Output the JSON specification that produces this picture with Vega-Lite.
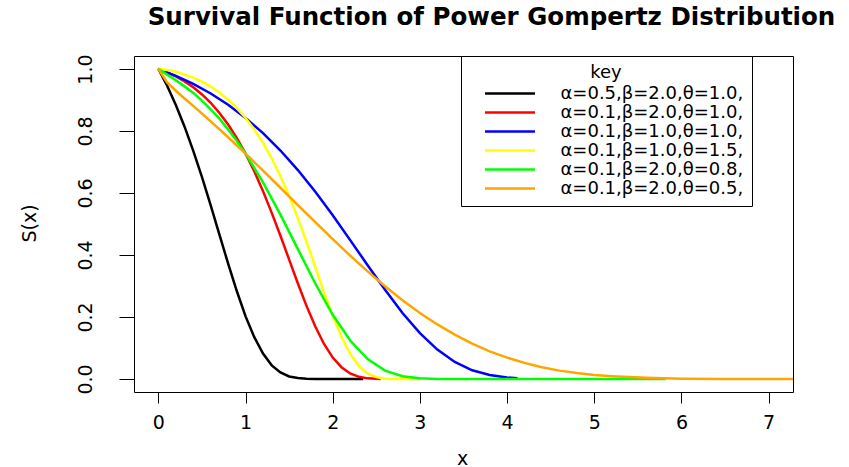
{
  "$schema": "https://vega.github.io/schema/vega-lite/v6.json",
  "width": 659,
  "height": 336,
  "autosize": {"type": "none"},
  "padding": {"left": 134, "top": 56, "right": 56, "bottom": 75},
  "background": "white",
  "config": {
    "font": "DejaVu Sans",
    "view": {"stroke": "black", "strokeWidth": 1},
    "axis": {"grid": false, "domain": false, "labelColor": "black", "tickColor": "black", "titleColor": "black", "titleFontWeight": "normal"}
  },
  "title": {
    "text": "Survival Function of Power Gompertz Distribution",
    "font": "DejaVu Sans",
    "fontSize": 24.5,
    "fontWeight": "bold",
    "color": "black",
    "anchor": "middle",
    "dx": 28,
    "baseline": "alphabetic",
    "offset": 4
  },
  "datasets": {
    "black": [
      {"x": 0, "s": 1}, {"x": 0.1, "s": 0.946}, {"x": 0.2, "s": 0.884}, {"x": 0.3, "s": 0.814}, {"x": 0.4, "s": 0.736},
      {"x": 0.5, "s": 0.651}, {"x": 0.6, "s": 0.56}, {"x": 0.7, "s": 0.466}, {"x": 0.8, "s": 0.372}, {"x": 0.9, "s": 0.283},
      {"x": 1.0, "s": 0.202}, {"x": 1.1, "s": 0.135}, {"x": 1.2, "s": 0.082}, {"x": 1.3, "s": 0.044}, {"x": 1.4, "s": 0.021},
      {"x": 1.5, "s": 0.008}, {"x": 1.6, "s": 0.003}, {"x": 1.7, "s": 0.001}, {"x": 1.8, "s": 0}, {"x": 2.35, "s": 0}
    ],
    "red": [
      {"x": 0, "s": 1}, {"x": 0.1, "s": 0.989}, {"x": 0.2, "s": 0.976}, {"x": 0.3, "s": 0.96}, {"x": 0.4, "s": 0.941},
      {"x": 0.5, "s": 0.918}, {"x": 0.6, "s": 0.891}, {"x": 0.7, "s": 0.858}, {"x": 0.8, "s": 0.821}, {"x": 0.9, "s": 0.777},
      {"x": 1.0, "s": 0.727}, {"x": 1.1, "s": 0.67}, {"x": 1.2, "s": 0.606}, {"x": 1.3, "s": 0.536}, {"x": 1.4, "s": 0.462},
      {"x": 1.5, "s": 0.385}, {"x": 1.6, "s": 0.308}, {"x": 1.7, "s": 0.235}, {"x": 1.8, "s": 0.169}, {"x": 1.9, "s": 0.113},
      {"x": 2.0, "s": 0.069}, {"x": 2.1, "s": 0.038}, {"x": 2.2, "s": 0.018}, {"x": 2.3, "s": 0.007}, {"x": 2.4, "s": 0.002},
      {"x": 2.55, "s": 0}
    ],
    "blue": [
      {"x": 0, "s": 1}, {"x": 0.2, "s": 0.978}, {"x": 0.4, "s": 0.952}, {"x": 0.6, "s": 0.921}, {"x": 0.8, "s": 0.885},
      {"x": 1.0, "s": 0.842}, {"x": 1.2, "s": 0.793}, {"x": 1.4, "s": 0.737}, {"x": 1.6, "s": 0.674}, {"x": 1.8, "s": 0.604},
      {"x": 2.0, "s": 0.528}, {"x": 2.2, "s": 0.448}, {"x": 2.4, "s": 0.367}, {"x": 2.6, "s": 0.288}, {"x": 2.8, "s": 0.213},
      {"x": 3.0, "s": 0.148}, {"x": 3.2, "s": 0.095}, {"x": 3.4, "s": 0.055}, {"x": 3.6, "s": 0.028}, {"x": 3.8, "s": 0.013},
      {"x": 4.0, "s": 0.005}, {"x": 4.12, "s": 0.002}
    ],
    "yellow": [
      {"x": 0, "s": 1}, {"x": 0.1, "s": 0.997}, {"x": 0.2, "s": 0.991}, {"x": 0.3, "s": 0.982}, {"x": 0.4, "s": 0.972},
      {"x": 0.5, "s": 0.959}, {"x": 0.6, "s": 0.943}, {"x": 0.7, "s": 0.924}, {"x": 0.8, "s": 0.901}, {"x": 0.9, "s": 0.874},
      {"x": 1.0, "s": 0.842}, {"x": 1.1, "s": 0.805}, {"x": 1.2, "s": 0.762}, {"x": 1.3, "s": 0.712}, {"x": 1.4, "s": 0.654},
      {"x": 1.5, "s": 0.59}, {"x": 1.6, "s": 0.519}, {"x": 1.7, "s": 0.442}, {"x": 1.8, "s": 0.361}, {"x": 1.9, "s": 0.28},
      {"x": 2.0, "s": 0.204}, {"x": 2.1, "s": 0.136}, {"x": 2.2, "s": 0.081}, {"x": 2.3, "s": 0.042}, {"x": 2.4, "s": 0.018},
      {"x": 2.5, "s": 0.006}, {"x": 2.6, "s": 0.001}, {"x": 2.7, "s": 0}, {"x": 3.0, "s": 0}
    ],
    "green": [
      {"x": 0, "s": 1}, {"x": 0.1, "s": 0.982}, {"x": 0.2, "s": 0.964}, {"x": 0.3, "s": 0.944}, {"x": 0.4, "s": 0.923},
      {"x": 0.5, "s": 0.898}, {"x": 0.6, "s": 0.87}, {"x": 0.7, "s": 0.84}, {"x": 0.8, "s": 0.805}, {"x": 0.9, "s": 0.768},
      {"x": 1.0, "s": 0.727}, {"x": 1.2, "s": 0.634}, {"x": 1.4, "s": 0.53}, {"x": 1.6, "s": 0.419}, {"x": 1.8, "s": 0.308},
      {"x": 2.0, "s": 0.207}, {"x": 2.2, "s": 0.124}, {"x": 2.4, "s": 0.064}, {"x": 2.6, "s": 0.027}, {"x": 2.8, "s": 0.009},
      {"x": 3.0, "s": 0.002}, {"x": 3.2, "s": 0}, {"x": 5.82, "s": 0}
    ],
    "orange": [
      {"x": 0, "s": 1}, {"x": 0.1, "s": 0.957}, {"x": 0.2, "s": 0.93}, {"x": 0.3, "s": 0.905}, {"x": 0.4, "s": 0.881},
      {"x": 0.5, "s": 0.856}, {"x": 0.6, "s": 0.831}, {"x": 0.8, "s": 0.78}, {"x": 1.0, "s": 0.727}, {"x": 1.2, "s": 0.672},
      {"x": 1.4, "s": 0.617}, {"x": 1.6, "s": 0.561}, {"x": 1.8, "s": 0.506}, {"x": 2.0, "s": 0.451}, {"x": 2.2, "s": 0.398},
      {"x": 2.4, "s": 0.347}, {"x": 2.6, "s": 0.299}, {"x": 2.8, "s": 0.254}, {"x": 3.0, "s": 0.213}, {"x": 3.2, "s": 0.176},
      {"x": 3.4, "s": 0.143}, {"x": 3.6, "s": 0.114}, {"x": 3.8, "s": 0.089}, {"x": 4.0, "s": 0.069}, {"x": 4.2, "s": 0.052},
      {"x": 4.4, "s": 0.038}, {"x": 4.6, "s": 0.027}, {"x": 4.8, "s": 0.019}, {"x": 5.0, "s": 0.013}, {"x": 5.2, "s": 0.009},
      {"x": 5.4, "s": 0.006}, {"x": 5.6, "s": 0.004}, {"x": 5.8, "s": 0.002}, {"x": 6.0, "s": 0.001}, {"x": 6.5, "s": 0},
      {"x": 7.5, "s": 0}
    ]
  },
  "encoding": {
    "x": {
      "field": "x", "type": "quantitative",
      "scale": {"domain": [-0.28, 7.28], "nice": false, "zero": false},
      "axis": {
        "values": [0, 1, 2, 3, 4, 5, 6, 7],
        "tickSize": 11, "tickWidth": 1,
        "labelFontSize": 19, "labelBaseline": "alphabetic", "labelPadding": 25,
        "title": "x", "titleFontSize": 19, "titleX": 328, "titleY": 72, "titleBaseline": "alphabetic", "titleAlign": "center"
      }
    },
    "y": {
      "field": "s", "type": "quantitative",
      "scale": {"domain": [-0.042, 1.042], "nice": false, "zero": false},
      "axis": {
        "values": [0, 0.2, 0.4, 0.6, 0.8, 1.0], "format": ".1f",
        "tickSize": 15, "tickWidth": 1,
        "labelFontSize": 19, "labelAngle": 270, "labelAlign": "center", "labelBaseline": "alphabetic", "labelPadding": 28,
        "title": "S(x)", "titleFontSize": 19, "titleAngle": 270, "titleX": -99, "titleY": 167, "titleAlign": "center", "titleBaseline": "alphabetic"
      }
    },
    "color": {
      "type": "nominal",
      "scale": {
        "domain": ["α=0.5,β=2.0,θ=1.0,", "α=0.1,β=2.0,θ=1.0,", "α=0.1,β=1.0,θ=1.0,", "α=0.1,β=1.0,θ=1.5,", "α=0.1,β=2.0,θ=0.8,", "α=0.1,β=2.0,θ=0.5,"],
        "range": ["#000000", "#FF0000", "#0000FF", "#FFFF00", "#00FF00", "#FFA500"]
      },
      "legend": {
        "title": "key",
        "orient": "none",
        "legendX": 327,
        "legendY": 0,
        "padding": 8,
        "fillColor": "white",
        "strokeColor": "black",
        "cornerRadius": 0,
        "titleFontSize": 18,
        "titleFontWeight": "normal",
        "titleColor": "black",
        "titleAnchor": "middle",
        "titlePadding": 3,
        "labelFontSize": 18,
        "labelColor": "black",
        "labelLimit": 400,
        "symbolType": "stroke",
        "symbolSize": 2500,
        "symbolStrokeWidth": 2.5,
        "symbolOffset": 14.5,
        "labelOffset": 24,
        "clipHeight": 17,
        "rowPadding": 0
      }
    }
  },
  "layer": [
    {"data": {"name": "black"}, "mark": {"type": "line", "strokeWidth": 2.5, "clip": true}, "encoding": {"color": {"datum": "α=0.5,β=2.0,θ=1.0,"}}},
    {"data": {"name": "red"}, "mark": {"type": "line", "strokeWidth": 2.5, "clip": true}, "encoding": {"color": {"datum": "α=0.1,β=2.0,θ=1.0,"}}},
    {"data": {"name": "blue"}, "mark": {"type": "line", "strokeWidth": 2.5, "clip": true}, "encoding": {"color": {"datum": "α=0.1,β=1.0,θ=1.0,"}}},
    {"data": {"name": "yellow"}, "mark": {"type": "line", "strokeWidth": 2.5, "clip": true}, "encoding": {"color": {"datum": "α=0.1,β=1.0,θ=1.5,"}}},
    {"data": {"name": "green"}, "mark": {"type": "line", "strokeWidth": 2.5, "clip": true}, "encoding": {"color": {"datum": "α=0.1,β=2.0,θ=0.8,"}}},
    {"data": {"name": "orange"}, "mark": {"type": "line", "strokeWidth": 2.5, "clip": true}, "encoding": {"color": {"datum": "α=0.1,β=2.0,θ=0.5,"}}}
  ],
  "resolve": {"scale": {"color": "shared"}}
}
